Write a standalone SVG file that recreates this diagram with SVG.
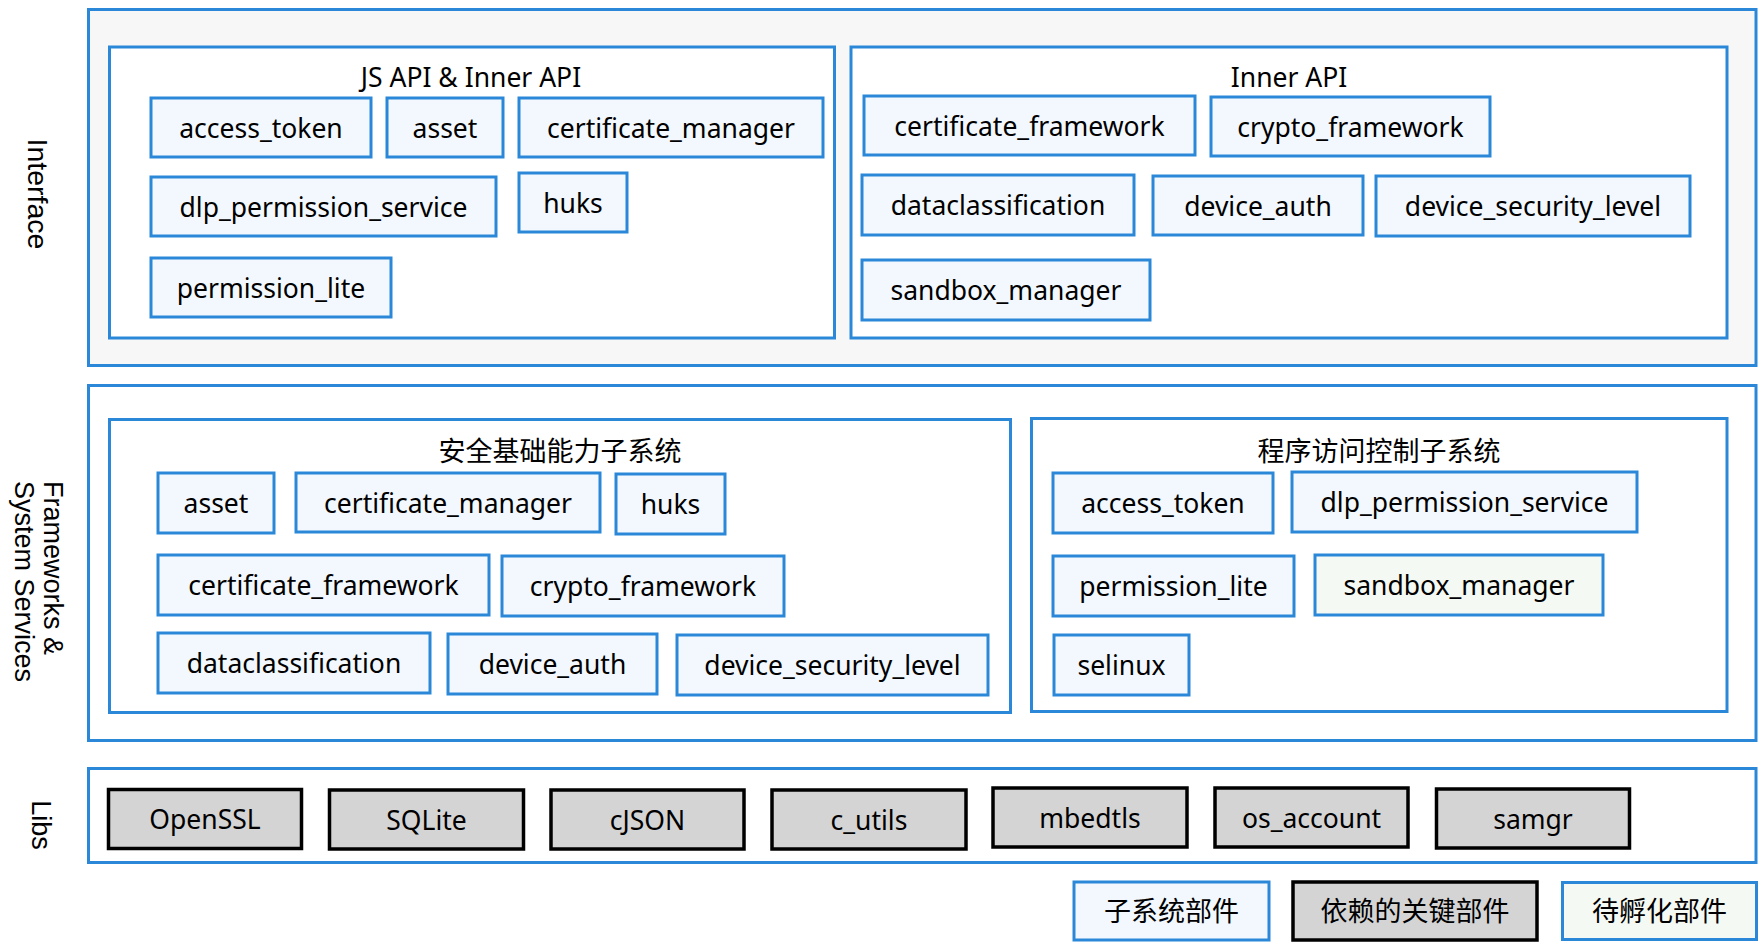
<svg xmlns="http://www.w3.org/2000/svg" width="1764" height="947" viewBox="0 0 1764 947">
<style>
.layer{stroke:#2b88d8;stroke-width:3}
.frame{fill:#ffffff;stroke:#2b88d8;stroke-width:3}
.c{fill:#f2f8fe;stroke:#2b88d8;stroke-width:3}
.g{fill:#f5f9f4;stroke:#2b88d8;stroke-width:3}
.k{fill:#d4d4d4;stroke:#000000;stroke-width:3.5}
.t{font-family:"Noto Sans","Noto Sans CJK SC",sans-serif;font-size:26.5px;fill:#000;text-anchor:middle}
.z{font-family:"Noto Sans CJK SC","Noto Sans",sans-serif;font-size:27px;fill:#000;text-anchor:middle}
.side{font-family:"Liberation Sans",Arial,sans-serif;font-size:27px;fill:#000}
</style>
<rect width="1764" height="947" fill="#ffffff"/>

<g id="layer-interface">
<rect class="layer" x="88.5" y="9.5" width="1667.5" height="356" fill="#f7f7f7"/>
<text class="side" text-anchor="middle" style="font-size:28.5px" transform="translate(28,194) rotate(90)">Interface</text>
</g>
<g id="frame-js-api">
<rect class="frame" x="109.5" y="47" width="725" height="291"/>
<text class="t" x="471" y="87">JS API &amp; Inner API</text>
</g>
<g id="if-access_token"><rect class="c" x="151" y="98" width="220" height="59"/><text class="t" x="261" y="137.5">access_token</text></g>
<g id="if-asset"><rect class="c" x="387" y="98" width="116" height="59"/><text class="t" x="445" y="137.5">asset</text></g>
<g id="if-certificate_manager"><rect class="c" x="519" y="98" width="304" height="59"/><text class="t" x="671" y="137.5">certificate_manager</text></g>
<g id="if-dlp_permission_service"><rect class="c" x="151" y="177" width="345" height="59"/><text class="t" x="323.5" y="216.5">dlp_permission_service</text></g>
<g id="if-huks"><rect class="c" x="519" y="173" width="108" height="59"/><text class="t" x="573" y="212.5">huks</text></g>
<g id="if-permission_lite"><rect class="c" x="151" y="258" width="240" height="59"/><text class="t" x="271" y="297.5">permission_lite</text></g>

<g id="frame-inner-api">
<rect class="frame" x="851" y="47" width="876" height="291"/>
<text class="t" x="1289" y="87">Inner API</text>
</g>
<g id="ia-certificate_framework"><rect class="c" x="864" y="96" width="331" height="59"/><text class="t" x="1029.5" y="135.5">certificate_framework</text></g>
<g id="ia-crypto_framework"><rect class="c" x="1211" y="97" width="279" height="59"/><text class="t" x="1350.5" y="136.5">crypto_framework</text></g>
<g id="ia-dataclassification"><rect class="c" x="862" y="175" width="272" height="60"/><text class="t" x="998" y="215">dataclassification</text></g>
<g id="ia-device_auth"><rect class="c" x="1153" y="176" width="210" height="59"/><text class="t" x="1258" y="215.5">device_auth</text></g>
<g id="ia-device_security_level"><rect class="c" x="1376" y="176" width="314" height="60"/><text class="t" x="1533" y="216">device_security_level</text></g>
<g id="ia-sandbox_manager"><rect class="c" x="862" y="260" width="288" height="60"/><text class="t" x="1006" y="300">sandbox_manager</text></g>

<g id="layer-frameworks">
<rect class="frame" x="88.5" y="385.5" width="1667.5" height="355"/>
<text class="side" transform="translate(44,481) rotate(90)"><tspan x="0" y="0">Frameworks &amp;</tspan><tspan x="0" dy="29.5">System Services</tspan></text>
</g>
<g id="frame-security-base">
<rect class="frame" x="109.5" y="419.5" width="901" height="293"/>
<text class="z" x="560" y="461">安全基础能力子系统</text>
</g>
<g id="sb-asset"><rect class="c" x="158" y="473" width="116" height="60"/><text class="t" x="216" y="513">asset</text></g>
<g id="sb-certificate_manager"><rect class="c" x="296" y="473" width="304" height="59"/><text class="t" x="448" y="512.5">certificate_manager</text></g>
<g id="sb-huks"><rect class="c" x="616" y="474" width="109" height="60"/><text class="t" x="670.5" y="514">huks</text></g>
<g id="sb-certificate_framework"><rect class="c" x="158" y="555" width="331" height="60"/><text class="t" x="323.5" y="595">certificate_framework</text></g>
<g id="sb-crypto_framework"><rect class="c" x="502" y="556" width="282" height="60"/><text class="t" x="643" y="596">crypto_framework</text></g>
<g id="sb-dataclassification"><rect class="c" x="158" y="633" width="272" height="60"/><text class="t" x="294" y="673">dataclassification</text></g>
<g id="sb-device_auth"><rect class="c" x="448" y="634" width="209" height="60"/><text class="t" x="552.5" y="674">device_auth</text></g>
<g id="sb-device_security_level"><rect class="c" x="677" y="635" width="311" height="60"/><text class="t" x="832.5" y="675">device_security_level</text></g>

<g id="frame-access-control">
<rect class="frame" x="1031.5" y="418.5" width="695.5" height="293"/>
<text class="z" x="1379" y="461">程序访问控制子系统</text>
</g>
<g id="ac-access_token"><rect class="c" x="1053" y="473" width="220" height="60"/><text class="t" x="1163" y="513">access_token</text></g>
<g id="ac-dlp_permission_service"><rect class="c" x="1292" y="472" width="345" height="60"/><text class="t" x="1464.5" y="512">dlp_permission_service</text></g>
<g id="ac-permission_lite"><rect class="c" x="1053" y="556" width="241" height="60"/><text class="t" x="1173.5" y="596">permission_lite</text></g>
<g id="ac-sandbox_manager"><rect class="g" x="1315" y="555" width="288" height="60"/><text class="t" x="1459" y="595">sandbox_manager</text></g>
<g id="ac-selinux"><rect class="c" x="1054" y="635" width="135" height="60"/><text class="t" x="1121.5" y="675">selinux</text></g>

<g id="layer-libs">
<rect class="frame" x="88.5" y="768.5" width="1667.5" height="94"/>
<text class="side" text-anchor="middle" transform="translate(31.5,825) rotate(90)">Libs</text>
</g>
<g id="lib-OpenSSL"><rect class="k" x="108.5" y="789.5" width="193" height="59"/><text class="t" x="205" y="829">OpenSSL</text></g>
<g id="lib-SQLite"><rect class="k" x="329.5" y="790" width="194" height="59"/><text class="t" x="426.5" y="829.5">SQLite</text></g>
<g id="lib-cJSON"><rect class="k" x="551" y="790" width="193" height="59"/><text class="t" x="647.5" y="829.5">cJSON</text></g>
<g id="lib-c_utils"><rect class="k" x="772" y="790" width="194" height="59"/><text class="t" x="869" y="829.5">c_utils</text></g>
<g id="lib-mbedtls"><rect class="k" x="993" y="788" width="194" height="59"/><text class="t" x="1090" y="827.5">mbedtls</text></g>
<g id="lib-os_account"><rect class="k" x="1215" y="788" width="193" height="59"/><text class="t" x="1311.5" y="827.5">os_account</text></g>
<g id="lib-samgr"><rect class="k" x="1436.5" y="789" width="193" height="59"/><text class="t" x="1533" y="828.5">samgr</text></g>

<g id="legend-subsystem"><rect class="c" x="1074" y="882" width="195" height="58"/><text class="z" x="1171.5" y="921">子系统部件</text></g>
<g id="legend-dependency"><rect class="k" x="1293" y="882" width="244" height="58"/><text class="z" x="1415" y="921">依赖的关键部件</text></g>
<g id="legend-incubating"><rect class="g" x="1562.5" y="882.5" width="194" height="57"/><text class="z" x="1659.5" y="921">待孵化部件</text></g>

<g id="connectors"></g>
</svg>
